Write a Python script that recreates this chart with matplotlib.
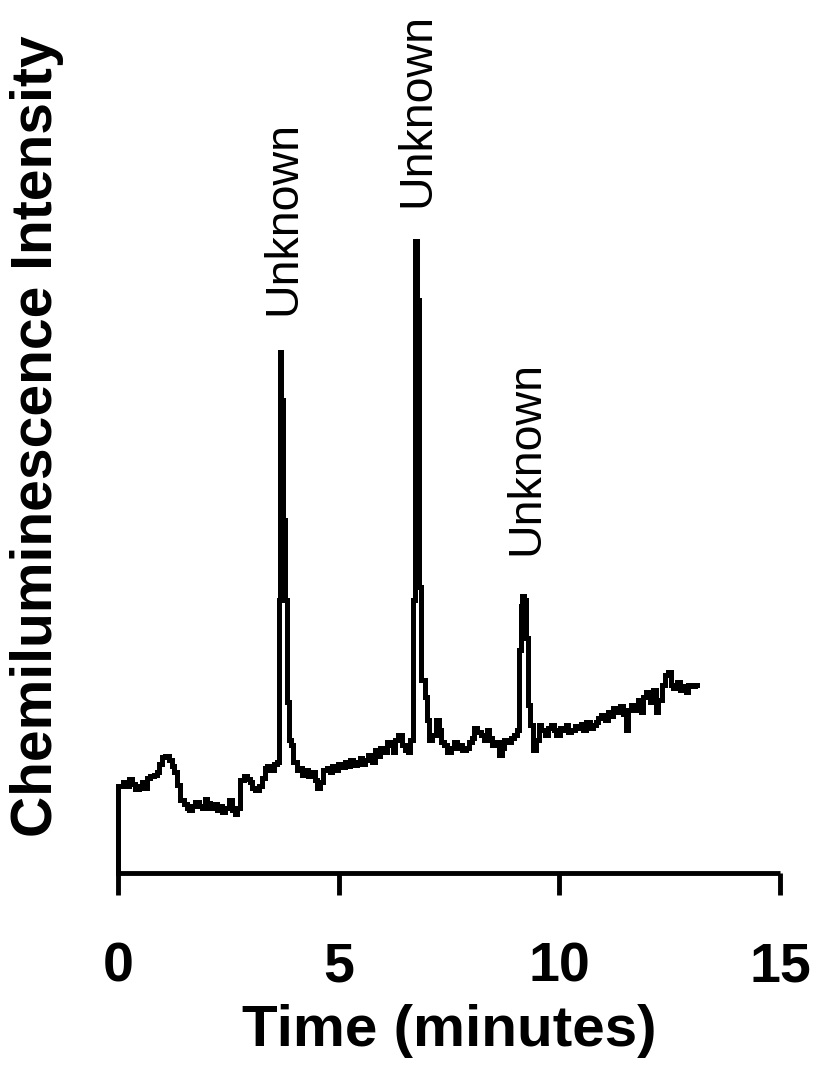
import matplotlib
matplotlib.use("Agg")
import matplotlib.pyplot as plt
from matplotlib import font_manager

# ---------------- data ----------------
time_min = [
    0.00, 0.01, 0.07, 0.16, 0.23, 0.29, 0.36, 0.43, 0.50, 0.57, 0.63, 0.70, 0.77, 0.84, 0.91, 0.97,
    1.04, 1.11, 1.18, 1.25, 1.31, 1.38, 1.45, 1.52, 1.59, 1.65, 1.72, 1.79, 1.86, 1.93, 1.99,
    2.06, 2.13, 2.20, 2.27, 2.33, 2.40, 2.47, 2.54, 2.61, 2.67, 2.74, 2.81, 2.88, 2.95,
    3.01, 3.08, 3.15, 3.22, 3.29, 3.35, 3.42, 3.49, 3.56, 3.63, 3.66, 3.68, 3.72, 3.76, 3.81,
    3.85, 3.90, 3.94, 4.01, 4.08, 4.15, 4.21, 4.28, 4.35, 4.42, 4.49, 4.55, 4.62, 4.69, 4.76,
    4.83, 4.89, 4.96, 5.03, 5.10, 5.17, 5.23, 5.30, 5.37, 5.44, 5.51, 5.57, 5.64, 5.71, 5.78,
    5.85, 5.91, 5.98, 6.05, 6.12, 6.19, 6.25, 6.32, 6.39, 6.46, 6.53, 6.59, 6.66, 6.71, 6.75,
    6.80, 6.84, 6.91, 6.98, 7.02, 7.09, 7.16, 7.23, 7.30, 7.36, 7.43, 7.50, 7.57, 7.64, 7.70,
    7.77, 7.84, 7.91, 7.98, 8.04, 8.11, 8.18, 8.25, 8.32, 8.38, 8.45, 8.52, 8.59, 8.66, 8.72,
    8.79, 8.86, 8.93, 9.00, 9.06, 9.11, 9.14, 9.19, 9.22, 9.27, 9.31, 9.36, 9.43, 9.50, 9.56,
    9.63, 9.70, 9.77, 9.84, 9.90, 9.97, 10.04, 10.11, 10.17, 10.24, 10.31, 10.38, 10.45, 10.51,
    10.58, 10.65, 10.72, 10.79, 10.85, 10.92, 10.99, 11.06, 11.13, 11.19, 11.26, 11.33, 11.40,
    11.47, 11.53, 11.60, 11.67, 11.74, 11.81, 11.87, 11.94, 12.01, 12.08, 12.15, 12.21, 12.28,
    12.35, 12.42, 12.49, 12.55, 12.62, 12.69, 12.76, 12.83, 12.89, 12.96, 13.05, 13.12,
]
intensity = [
    0, 87, 87, 91, 87, 94, 89, 84, 87, 91, 85, 95, 97, 98, 101, 109,
    116, 117, 113, 107, 101, 88, 73, 69, 65, 63, 67, 71, 67, 65, 74,
    70, 65, 69, 63, 67, 61, 65, 73, 63, 59, 65, 93, 97, 94,
    91, 85, 83, 87, 95, 105, 107, 103, 109, 111, 273, 521, 473, 353, 273,
    171, 133, 128, 111, 103, 105, 98, 103, 97, 101, 93, 85, 91, 103, 105,
    101, 107, 103, 109, 106, 111, 107, 113, 108, 111, 115, 109, 113, 118, 111,
    123, 117, 125, 121, 131, 128, 121, 133, 138, 128, 123, 121, 133, 273, 632,
    573, 286, 193, 176, 153, 133, 138, 153, 143, 131, 128, 121, 125, 131, 125,
    128, 123, 125, 131, 135, 145, 141, 138, 133, 143, 135, 128, 131, 118, 125,
    133, 131, 135, 138, 143, 223, 267, 277, 273, 235, 168, 148, 123, 133, 148,
    143, 138, 145, 148, 143, 138, 145, 143, 148, 141, 143, 147, 145, 149,
    143, 151, 145, 148, 151, 155, 158, 153, 161, 157, 165, 161, 167,
    159, 143, 163, 168, 163, 173, 161, 176, 181, 171, 183, 161, 173,
    188, 198, 201, 188, 185, 191, 183, 187, 181, 188, 187, 188,
]

peak_label = "Unknown"
peak_label_time = [3.74, 6.78, 9.25]
peak_label_height = [558, 666, 318]

x_ticks = [0, 5, 10, 15]
x_tick_labels = ["0", "5", "10", "15"]
x_label = "Time (minutes)"
y_label = "Chemiluminescence Intensity"

# ---------------- fonts ----------------
available = {f.name for f in font_manager.fontManager.ttflist}
main_font = "Liberation Sans" if "Liberation Sans" in available else "DejaVu Sans"
plt.rcParams["font.family"] = [main_font, "DejaVu Sans"]

# ---------------- figure ----------------
fig = plt.figure(figsize=(8.3, 10.76), dpi=100)
ax = fig.add_axes([118 / 830, (1076 - 873) / 1076, 662 / 830, 863 / 1076])

ax.plot(time_min, intensity, color="black", linewidth=3.6, drawstyle="steps-mid",
        solid_joinstyle="miter", clip_on=False)

for t, h in zip(peak_label_time, peak_label_height):
    ax.text(t, h, peak_label, rotation=90, ha="center", va="bottom",
            fontsize=33.5, color="black", clip_on=False)

ax.set_xlim(0, 15)
ax.set_ylim(0, 863)

for side in ["top", "right", "left"]:
    ax.spines[side].set_visible(False)
ax.spines["bottom"].set_linewidth(3.5)
ax.spines["bottom"].set_capstyle("butt")

ax.set_xticks(x_ticks)
ax.set_xticklabels(x_tick_labels, fontsize=40, fontweight="bold")
ax.tick_params(axis="x", direction="out", length=16, width=3.5, pad=33)
ax.set_yticks([])

ax.set_xlabel(x_label, fontsize=42, fontweight="bold", labelpad=8)
ax.set_ylabel(y_label, fontsize=41, fontweight="bold")
ax.yaxis.set_label_coords(-0.082, 0.506)

fig.savefig("out.png", dpi=100)
